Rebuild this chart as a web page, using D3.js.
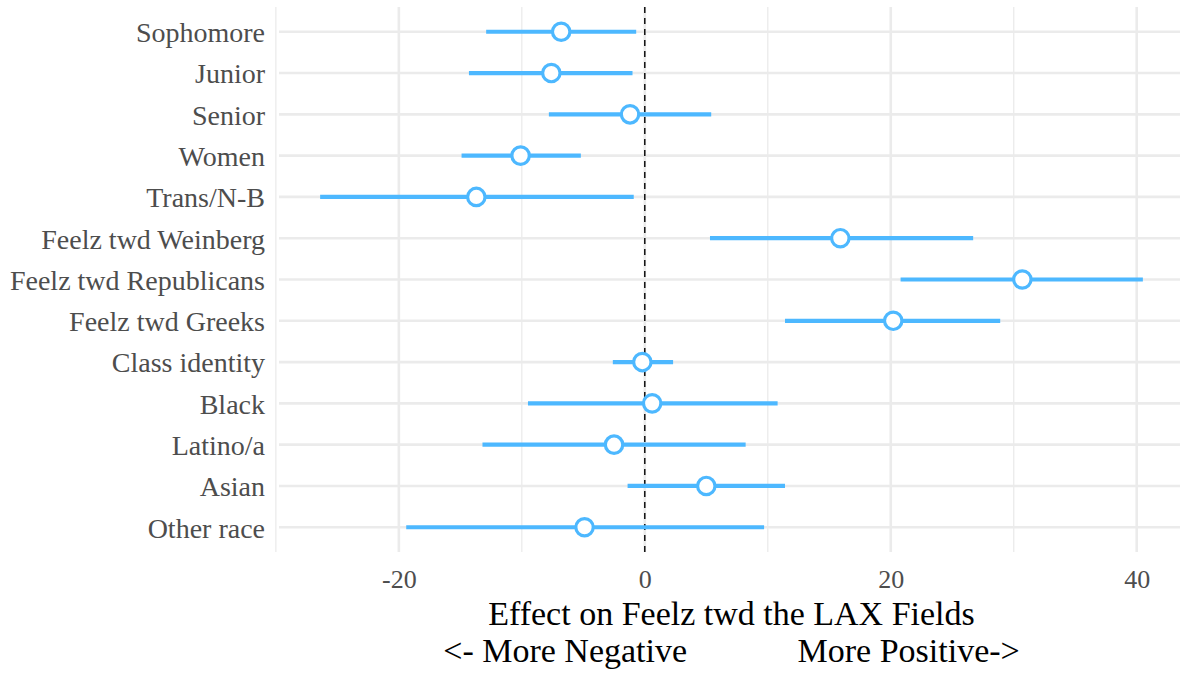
<!DOCTYPE html>
<html>
<head>
<meta charset="utf-8">
<script src="https://cdn.jsdelivr.net/npm/d3@7"></script>
<style>
  html, body { margin: 0; padding: 0; background: #ffffff; }
  svg { display: block; }
  text { font-family: "Liberation Serif", "DejaVu Serif", serif; }
</style>
</head>
<body>
<svg id="chart" width="1180" height="675"></svg>
<script>
// ---- data (top to bottom) ----
const categories = ["Sophomore", "Junior", "Senior", "Women", "Trans/N-B",
  "Feelz twd Weinberg", "Feelz twd Republicans", "Feelz twd Greeks",
  "Class identity", "Black", "Latino/a", "Asian", "Other race"];
const estimates = [-6.8, -7.6, -1.2, -10.1, -13.7, 15.9, 30.7, 20.2, -0.2, 0.6, -2.5, 5.0, -4.9];
const lowerCI   = [-12.9, -14.3, -7.8, -14.9, -26.4, 5.3, 20.8, 11.4, -2.6, -9.5, -13.2, -1.4, -19.4];
const upperCI   = [-0.7, -1.0, 5.4, -5.2, -0.9, 26.7, 40.5, 28.9, 2.3, 10.8, 8.2, 11.4, 9.7];
const xMajorTicks = [-20, 0, 20, 40];
const xMinorTicks = [-30, -10, 10, 30];
const xTickLabels = ["-20", "0", "20", "40"];
const xTitle1 = "Effect on Feelz twd the LAX Fields";
const xTitle2 = "<- More Negative             More Positive->";

const rows = categories.map((c, i) => ({ cat: c, est: estimates[i], lo: lowerCI[i], hi: upperCI[i] }));

const svg = d3.select("#chart");
const panel = { left: 279, right: 1184, top: 7, bottom: 552 };

const lo = d3.min(lowerCI), hi = d3.max(upperCI);
const pad = (hi - lo) * 0.05;
const x = d3.scaleLinear().domain([lo - pad, hi + pad]).range([panel.left, panel.right]);
const y = d3.scalePoint().domain(categories).range([panel.top, panel.bottom]).padding(0.6);

const gridColor = "#EBEBEB";
const g = svg.append("g");

// minor vertical grid
g.selectAll("line.minor").data(xMinorTicks).join("line")
  .attr("x1", d => x(d)).attr("x2", d => x(d))
  .attr("y1", panel.top).attr("y2", panel.bottom)
  .attr("stroke", gridColor).attr("stroke-width", 1.3);

// major vertical grid
g.selectAll("line.major").data(xMajorTicks).join("line")
  .attr("x1", d => x(d)).attr("x2", d => x(d))
  .attr("y1", panel.top).attr("y2", panel.bottom)
  .attr("stroke", gridColor).attr("stroke-width", 2.6);

// horizontal grid
g.selectAll("line.hgrid").data(categories).join("line")
  .attr("x1", panel.left).attr("x2", panel.right)
  .attr("y1", d => y(d)).attr("y2", d => y(d))
  .attr("stroke", gridColor).attr("stroke-width", 2.6);

// zero reference line
g.append("line")
  .attr("x1", x(0)).attr("x2", x(0))
  .attr("y1", panel.top).attr("y2", panel.bottom)
  .attr("stroke", "#000").attr("stroke-width", 1.4)
  .attr("stroke-dasharray", "6,5");

const blue = "#4DB8FF";

// intervals
g.selectAll("line.ci").data(rows).join("line")
  .attr("x1", d => x(d.lo)).attr("x2", d => x(d.hi))
  .attr("y1", d => y(d.cat)).attr("y2", d => y(d.cat))
  .attr("stroke", blue).attr("stroke-width", 4.2);

// points
g.selectAll("circle.pt").data(rows).join("circle")
  .attr("cx", d => x(d.est)).attr("cy", d => y(d.cat))
  .attr("r", 8.7)
  .attr("fill", "#fff").attr("stroke", blue).attr("stroke-width", 3.2);

// y axis labels
const yAxis = d3.axisLeft(y).tickSize(0).tickPadding(0);
const yg = svg.append("g").attr("transform", `translate(${panel.left - 14},0)`).call(yAxis);
yg.select(".domain").remove();
yg.selectAll("text")
  .attr("fill", "#4D4D4D").attr("font-size", 28)
  .attr("font-family", "Liberation Serif, serif")
  .attr("dy", "0.35em");

// x axis labels
const xAxis = d3.axisBottom(x).tickValues(xMajorTicks).tickSize(0).tickPadding(0)
  .tickFormat((d, i) => xTickLabels[i]);
const xg = svg.append("g").attr("transform", `translate(0,${panel.bottom + 36})`).call(xAxis);
xg.select(".domain").remove();
xg.selectAll("text")
  .attr("fill", "#4D4D4D").attr("font-size", 26)
  .attr("font-family", "Liberation Serif, serif")
  .attr("dy", 0);

// x title
const cx = (panel.left + panel.right) / 2;
svg.append("text").attr("x", cx).attr("y", 625)
  .attr("text-anchor", "middle").attr("font-size", 34).attr("fill", "#000")
  .text(xTitle1);
svg.append("text").attr("x", cx).attr("y", 662)
  .attr("text-anchor", "middle").attr("font-size", 34).attr("fill", "#000")
  .style("white-space", "pre").attr("xml:space", "preserve")
  .text(xTitle2);
</script>
</body>
</html>
